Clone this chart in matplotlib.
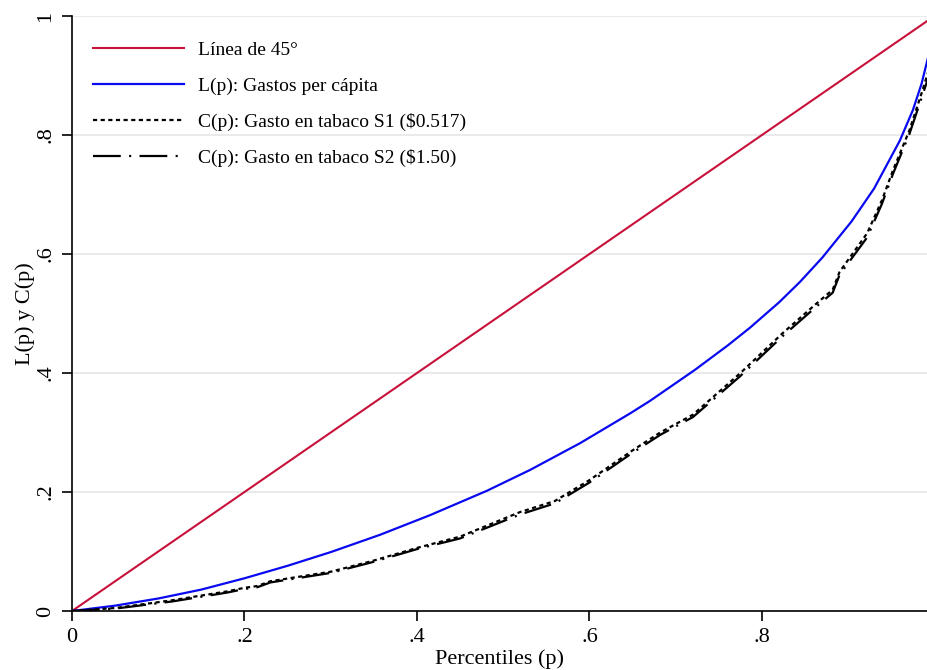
import matplotlib
matplotlib.use('Agg')
import matplotlib.pyplot as plt

# datos
p_lorenz = [0, 0.05, 0.10, 0.15, 0.20, 0.25, 0.30, 0.357, 0.415, 0.481, 0.531, 0.589,
            0.647, 0.670, 0.722, 0.760, 0.786, 0.820, 0.844, 0.870, 0.904, 0.930,
            0.960, 0.975, 0.985, 0.9925]
lorenz = [0, 0.009, 0.021, 0.036, 0.055, 0.076, 0.099, 0.128, 0.161, 0.202, 0.237, 0.282,
          0.332, 0.353, 0.405, 0.446, 0.476, 0.519, 0.553, 0.594, 0.655, 0.710,
          0.791, 0.842, 0.886, 0.930]

p_conc = [0, 0.05, 0.116, 0.18, 0.20, 0.215, 0.23, 0.30, 0.348, 0.40, 0.45, 0.519, 0.56,
          0.60, 0.65, 0.682, 0.72, 0.775, 0.824, 0.861, 0.882, 0.89, 0.922, 0.939,
          0.952, 0.971, 0.985, 0.9925]
conc_s1 = [0, 0.005, 0.018, 0.033, 0.039, 0.042, 0.050, 0.066, 0.084, 0.106, 0.125, 0.166, 0.185,
           0.220, 0.270, 0.300, 0.330, 0.400, 0.467, 0.514, 0.540, 0.570, 0.635, 0.690,
           0.741, 0.808, 0.870, 0.905]
conc_s2 = [0, 0.004, 0.016, 0.031, 0.037, 0.040, 0.048, 0.064, 0.082, 0.104, 0.122, 0.162, 0.181,
           0.216, 0.266, 0.296, 0.326, 0.395, 0.462, 0.509, 0.535, 0.565, 0.628, 0.684,
           0.735, 0.802, 0.862, 0.895]

xticks = [0, 0.2, 0.4, 0.6, 0.8]
xticklabels = ['0', '.2', '.4', '.6', '.8']
yticks = [0, 0.2, 0.4, 0.6, 0.8, 1]
yticklabels = ['0', '.2', '.4', '.6', '.8', '1']

plt.rcParams['font.family'] = ['Liberation Serif', 'DejaVu Serif']
plt.rcParams['lines.scale_dashes'] = False

fig = plt.figure(figsize=(9.28, 6.70), dpi=100)
ax = fig.add_axes([72/928, 59/670, 1 - 72/928, (611-16)/670])

ax.plot([0, 0.9925], [0, 0.9925], color='#C8103A', lw=1.5, label='Línea de 45°')
ax.plot(p_lorenz, lorenz, color='#0A0AF0', lw=1.6, label='L(p): Gastos per cápita')
ax.plot(p_conc, conc_s1, color='black', lw=1.6, dashes=(3, 2.5),
        label='C(p): Gasto en tabaco S1 ($0.517)')
ax.plot(p_conc, conc_s2, color='black', lw=1.6, dashes=(20, 6, 1.5, 6),
        label='C(p): Gasto en tabaco S2 ($1.50)')

ax.set_xlim(0, 0.9925)
ax.set_ylim(0, 1)
ax.set_xticks(xticks)
ax.set_xticklabels(xticklabels)
ax.set_yticks(yticks)
ax.set_yticklabels(yticklabels, rotation=90, va='center')
ax.tick_params(axis='both', direction='out', length=7, width=1.2, labelsize=16, pad=5)
ax.grid(axis='y', color='#E6E6E6', lw=1.2)
ax.set_axisbelow(True)
for s in ['top', 'right']:
    ax.spines[s].set_visible(False)
for s in ['left', 'bottom']:
    ax.spines[s].set_linewidth(1.2)
    ax.spines[s].set_clip_on(False)

ax.set_xlabel('Percentiles (p)', fontsize=16, labelpad=2)
ax.set_ylabel('L(p) y C(p)', fontsize=16, labelpad=1)

leg = ax.legend(loc='upper left', bbox_to_anchor=(0.016, 0.97), frameon=False,
                fontsize=14, handlelength=4.65, handletextpad=0.7, labelspacing=0.93,
                borderaxespad=0)

plt.savefig('out.png', dpi=100)
